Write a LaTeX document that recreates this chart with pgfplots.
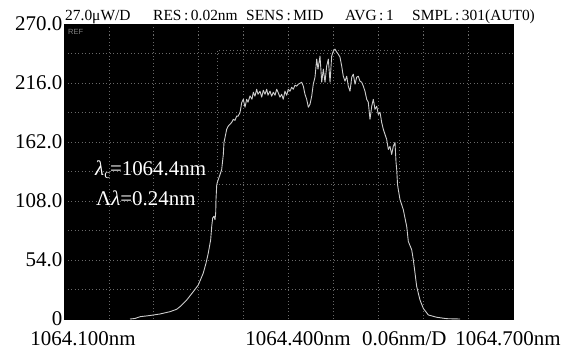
\documentclass[border=0pt]{standalone}
\usepackage{pgfplots}
\pgfplotsset{compat=1.18}
\usepackage{fontspec}
\setmainfont{Liberation Serif}
\setsansfont{Liberation Sans}
\definecolor{gridgray}{RGB}{105,105,105}
\definecolor{linegray}{RGB}{205,205,205}
\begin{document}
\begin{tikzpicture}[x=1bp,y=1bp]
\useasboundingbox (-64,-32) rectangle (500,319);
\begin{axis}[
  at={(0,0)}, anchor=south west,
  scale only axis, width=449bp, height=295bp,
  xmin=1064.1, xmax=1064.7, ymin=0, ymax=270,
  axis background/.style={fill=black},
  axis line style={black, line width=0.6bp},
  xtick={1064.1254,1064.4127,1064.6933},
  xticklabels={1064.100nm,1064.400nm,1064.700nm},
  minor xtick={1064.16,1064.22,1064.28,1064.34,1064.40,1064.46,1064.52,1064.58,1064.64},
  ytick={0,54,108,162,216,270},
  yticklabels={0,54.0,108.0,162.0,216.0,270.0},
  minor ytick={27,81,135,189,243},
  xmajorgrids=false, xminorgrids=true, ymajorgrids=true, yminorgrids=true,
  grid style={color=gridgray, dash pattern=on 1bp off 2.5bp, line width=0.7bp},
  minor grid style={color=gridgray, dash pattern=on 1bp off 2.5bp, line width=0.7bp},
  major tick length=0pt, minor tick length=0pt,
  tick label style={font=\fontsize{21}{21}\selectfont},
  xticklabel style={anchor=base, inner sep=0pt, yshift=-26.5bp},
  yticklabel style={anchor=east, inner sep=0pt, xshift=-1.5bp},
]
\addplot[color=gridgray, dash pattern=on 1bp off 2.5bp, line width=0.7bp] coordinates {
(1064.3045,123.1) (1064.3045,246.1) (1064.5477,246.1) (1064.5477,123.1) (1064.3045,123.1)};
\addplot[color=linegray, line width=0.9bp, line join=round] coordinates {
(1064.1882,0) (1064.1949,0.5) (1064.2016,2.1) (1064.2149,3.2) (1064.2283,4.6)
(1064.2416,6.7) (1064.2506,8.9) (1064.2550,11.3) (1064.2640,17.4) (1064.2728,25.1)
(1064.2795,31.2) (1064.2861,42.0) (1064.2898,51.2) (1064.2928,60.3) (1064.2960,72.6)
(1064.2974,84.8) (1064.2987,92.5) (1064.3004,94.0) (1064.3018,90.9) (1064.3027,97.1)
(1064.3031,109.3) (1064.3041,123.1) (1064.3062,127.7) (1064.3085,132.2) (1064.3107,136.8)
(1064.3129,150.6) (1064.3138,161.6) (1064.3174,173.6) (1064.3192,176.3) (1064.3218,178.2)
(1064.3241,180.0) (1064.3262,182.8) (1064.3285,181.8) (1064.3308,185.8) (1064.3325,185.5)
(1064.3352,188.9) (1064.3375,198.1) (1064.3396,201.1) (1064.3419,193.8) (1064.3441,201.1)
(1064.3459,198.4) (1064.3486,204.2) (1064.3512,201.1) (1064.3530,207.6) (1064.3552,203.9)
(1064.3575,210.3) (1064.3592,205.7) (1064.3619,208.5) (1064.3642,203.0) (1064.3663,209.4)
(1064.3686,205.7) (1064.3709,210.3) (1064.3726,204.8) (1064.3753,208.5) (1064.3775,203.9)
(1064.3797,207.6) (1064.3820,204.8) (1064.3842,210.3) (1064.3860,207.6) (1064.3886,203.0)
(1064.3909,205.7) (1064.3930,201.1) (1064.3953,208.5) (1064.3976,204.8) (1064.3997,210.3)
(1064.4020,208.5) (1064.4043,212.1) (1064.4064,210.3) (1064.4087,214.0) (1064.4110,213.1)
(1064.4131,214.9) (1064.4154,215.8) (1064.4176,216.7) (1064.4198,213.1) (1064.4220,205.7)
(1064.4243,201.1) (1064.4265,193.8) (1064.4287,196.5) (1064.4310,203.9) (1064.4331,214.9)
(1064.4354,221.3) (1064.4377,237.9) (1064.4394,228.7) (1064.4421,240.6) (1064.4444,216.7)
(1064.4465,228.7) (1064.4488,216.7) (1064.4510,231.4) (1064.4532,237.9) (1064.4555,216.7)
(1064.4577,240.6) (1064.4599,245.2) (1064.4621,247.0) (1064.4644,244.3) (1064.4665,242.4)
(1064.4688,239.7) (1064.4711,231.4) (1064.4732,222.2) (1064.4755,217.7) (1064.4778,222.2)
(1064.4799,213.1) (1064.4822,208.5) (1064.4845,221.3) (1064.4866,224.1) (1064.4889,214.9)
(1064.4911,221.3) (1064.4933,222.2) (1064.4955,217.7) (1064.4978,216.7) (1064.5000,213.1)
(1064.5022,208.5) (1064.5045,201.1) (1064.5066,198.4) (1064.5089,182.8) (1064.5112,194.7)
(1064.5133,201.1) (1064.5156,191.9) (1064.5179,194.7) (1064.5200,187.3) (1064.5223,189.2)
(1064.5245,180.0) (1064.5267,173.6) (1064.5312,164.4) (1064.5334,155.2) (1064.5356,158.0)
(1064.5379,150.6) (1064.5400,158.0) (1064.5423,161.6) (1064.5437,143.3) (1064.5446,136.8)
(1064.5457,123.1) (1064.5467,118.5) (1064.5490,109.3) (1064.5534,100.1) (1064.5580,84.5)
(1064.5601,71.0) (1064.5646,63.4) (1064.5668,54.2) (1064.5690,42.2) (1064.5713,29.7)
(1064.5757,17.4) (1064.5801,9.8) (1064.5868,3.7) (1064.5980,1.6) (1064.6114,0.3)
(1064.6292,0)};
\end{axis}
\begin{scope}[every node/.style={inner sep=0pt, anchor=base west}]
\node[font=\fontsize{15.5}{15.5}\selectfont] at (1,299) {27.0μW/D};
\node[font=\fontsize{15.5}{15.5}\selectfont] at (89,299) {RES\,:\,0.02nm};
\node[font=\fontsize{15.5}{15.5}\selectfont] at (182,299) {SENS\,:\,MID};
\node[font=\fontsize{15.5}{15.5}\selectfont] at (281,299) {AVG\,:\,1};
\node[font=\fontsize{15.5}{15.5}\selectfont] at (348,299) {SMPL\,:\,301(AUT0)};
\node[font=\fontsize{21}{21}\selectfont] at (298,-26.5) {0.06nm/D};
\node[font=\sffamily\fontsize{7.5}{7.5}\selectfont, text=gray] at (4,285) {REF};
\node[font=\fontsize{21}{21}\selectfont, text=white] at (31,144) {\textit{λ}\raisebox{-0.35ex}{\fontsize{13}{13}\selectfont c}=1064.4nm};
\node[font=\fontsize{21}{21}\selectfont, text=white] at (32,114) {Λ\textit{λ}=0.24nm};
\end{scope}
\end{tikzpicture}
\end{document}
